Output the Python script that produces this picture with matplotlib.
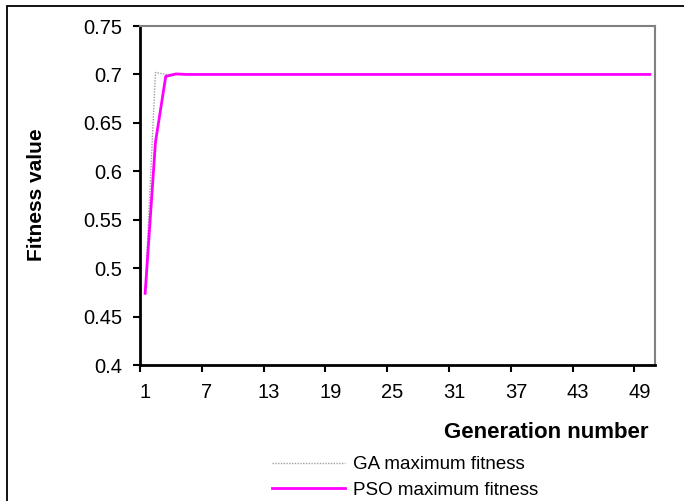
import matplotlib
matplotlib.use("Agg")
import matplotlib.pyplot as plt
from matplotlib.patches import Rectangle

plt.rcParams['font.family'] = ['Liberation Sans', 'DejaVu Sans']

generations = list(range(1, 51))
ga_fitness = [0.475, 0.702, 0.700, 0.700, 0.700, 0.700, 0.700, 0.700, 0.700, 0.700,
              0.700, 0.700, 0.700, 0.700, 0.700, 0.700, 0.700, 0.700, 0.700, 0.700,
              0.700, 0.700, 0.700, 0.700, 0.700, 0.700, 0.700, 0.700, 0.700, 0.700,
              0.700, 0.700, 0.700, 0.700, 0.700, 0.700, 0.700, 0.700, 0.700, 0.700,
              0.700, 0.700, 0.700, 0.700, 0.700, 0.700, 0.700, 0.700, 0.700, 0.700]
pso_fitness = [0.474, 0.630, 0.698, 0.7005, 0.700, 0.700, 0.700, 0.700, 0.700, 0.700,
               0.700, 0.700, 0.700, 0.700, 0.700, 0.700, 0.700, 0.700, 0.700, 0.700,
               0.700, 0.700, 0.700, 0.700, 0.700, 0.700, 0.700, 0.700, 0.700, 0.700,
               0.700, 0.700, 0.700, 0.700, 0.700, 0.700, 0.700, 0.700, 0.700, 0.700,
               0.700, 0.700, 0.700, 0.700, 0.700, 0.700, 0.700, 0.700, 0.700, 0.700]
x_labels = [1, 7, 13, 19, 25, 31, 37, 43, 49]
y_ticks = [0.4, 0.45, 0.5, 0.55, 0.6, 0.65, 0.7, 0.75]
y_labels = ["0.4", "0.45", "0.5", "0.55", "0.6", "0.65", "0.7", "0.75"]

W, H = 684, 501
fig = plt.figure(figsize=(W / 100, H / 100), dpi=100)

# outer chart frame (runs off right/bottom edge)
fig.patches.append(Rectangle((7 / W, -0.05), 1.1, 1 - 6 / H + 0.05, transform=fig.transFigure,
                             fill=False, edgecolor="black", linewidth=1.3))

ax = fig.add_axes([140 / W, 1 - 365 / H, 515 / W, 339 / H])
ax.plot(generations, ga_fitness, color="#a0a0a0", linewidth=1.0, linestyle=(0, (1, 1)),
        label="GA maximum fitness")
ax.plot(generations, pso_fitness, color="#ff00ff", linewidth=2.0, label="PSO maximum fitness")

ax.set_xlim(0.5, 50.5)
ax.set_ylim(0.4, 0.75)

ax.set_xticks([x - 0.5 for x in x_labels])
ax.set_xticklabels([])
ax.set_xticks(x_labels, minor=True)
ax.set_xticklabels([str(x) for x in x_labels], minor=True)
ax.tick_params(axis="x", which="minor", length=0, pad=13, labelsize=14.5)
ax.tick_params(axis="x", which="major", length=5, width=1.5, direction="out")

ax.set_yticks(y_ticks)
ax.set_yticklabels(y_labels)
ax.tick_params(axis="y", length=5, width=1.5, direction="out", labelsize=14.5, pad=8)

for s in ("left", "bottom"):
    ax.spines[s].set_color("black")
    ax.spines[s].set_linewidth(2)
for s in ("top", "right"):
    ax.spines[s].set_color("#808080")
    ax.spines[s].set_linewidth(1.5)

fig.text(37 / W, 1 - 195 / H, "Fitness value", rotation=90, ha="center", va="center",
         fontsize=15, fontweight="bold")
fig.text(648 / W, 1 - 432 / H, "Generation number", ha="right", va="center",
         fontsize=16, fontweight="bold")

fig.legend(loc="upper left", bbox_to_anchor=(272 / W, 1 - 456 / H), frameon=False,
           fontsize=13.5, handlelength=3.9, handletextpad=0.4, labelspacing=0.45,
           borderpad=0, borderaxespad=0)

fig.savefig("out.png", dpi=100)
